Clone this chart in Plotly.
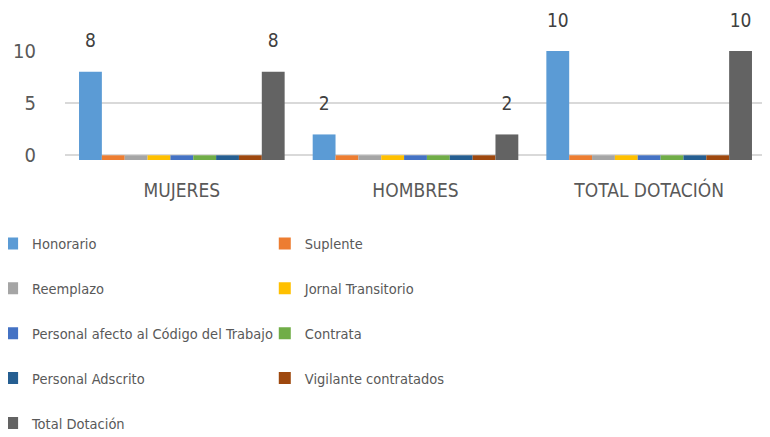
import plotly.graph_objects as go

categories = ["MUJERES", "HOMBRES", "TOTAL DOTACIÓN"]
series_names = [
    "Honorario", "Suplente", "Reemplazo", "Jornal Transitorio",
    "Personal afecto al Código del Trabajo", "Contrata",
    "Personal Adscrito", "Vigilante contratados", "Total Dotación",
]
honorario = [8, 2, 10]
suplente = [0, 0, 0]
reemplazo = [0, 0, 0]
jornal = [0, 0, 0]
codigo_trabajo = [0, 0, 0]
contrata = [0, 0, 0]
adscrito = [0, 0, 0]
vigilante = [0, 0, 0]
total_dotacion = [8, 2, 10]
series_values = [honorario, suplente, reemplazo, jornal, codigo_trabajo,
                 contrata, adscrito, vigilante, total_dotacion]
colors = ["#5B9BD5", "#ED7D31", "#A5A5A5", "#FFC000", "#4472C4",
          "#70AD47", "#255E91", "#9E480E", "#636363"]
y_ticks = [0, 5, 10]

FONT = "Liberation Sans Narrow, DejaVu Sans Condensed, Arial Narrow, sans-serif"
TXT = "#595959"
FLOOR = -0.45
GAP = 0.12

fig = go.Figure()
for i, (name, vals, col) in enumerate(zip(series_names, series_values, colors)):
    col_idx = i % 2
    fig.add_trace(go.Bar(
        x=categories, y=[v - FLOOR for v in vals], base=FLOOR,
        name=name, marker_color=col, marker_line_width=0,
        customdata=vals,
        legend="legend" if col_idx == 0 else "legend2",
        legendgroup=name,
        hovertemplate="%{x}: %{customdata}<extra>" + name + "</extra>",
    ))
# data labels, grouped the same way as the bars
for i, (name, vals) in enumerate(zip(series_names, series_values)):
    fig.add_trace(go.Scatter(
        x=categories, y=vals, mode="markers+text",
        text=[str(v) if v else "" for v in vals],
        textposition="top center", cliponaxis=False,
        marker=dict(size=30, opacity=0),
        textfont=dict(size=19, color="#404040", family=FONT),
        showlegend=False, hoverinfo="skip", legendgroup=name,
    ))

legend_common = dict(
    orientation="v", yanchor="top", y=-0.62,
    font=dict(size=14.5, color=TXT, family=FONT),
    tracegroupgap=23, itemwidth=30, bgcolor="rgba(0,0,0,0)",
    traceorder="grouped", maxheight=1,
)
fig.update_layout(
    width=770, height=437,
    margin=dict(l=57, r=12, t=43, b=285, autoexpand=False),
    paper_bgcolor="white", plot_bgcolor="white",
    barmode="group", bargap=GAP, bargroupgap=0,
    scattermode="group", scattergap=GAP,
    showlegend=True,
    legend=dict(x=-0.104, xanchor="left", **legend_common),
    legend2=dict(x=0.285, xanchor="left", **legend_common),
    font=dict(family=FONT, color=TXT),
    xaxis=dict(showgrid=False, showline=False, zeroline=False,
               automargin=False,
               tickfont=dict(size=19, color=TXT, family=FONT),
               ticks="outside", ticklen=13, tickcolor="rgba(0,0,0,0)"),
    yaxis=dict(range=[FLOOR, 10], tickvals=y_ticks, showgrid=True,
               gridcolor="#D9D9D9", gridwidth=1.5, zeroline=False,
               showline=False, automargin=False,
               tickfont=dict(size=20, color=TXT, family=FONT),
               ticks="outside", ticklen=24, tickcolor="rgba(0,0,0,0)"),
)
fig.write_html("out.html")
